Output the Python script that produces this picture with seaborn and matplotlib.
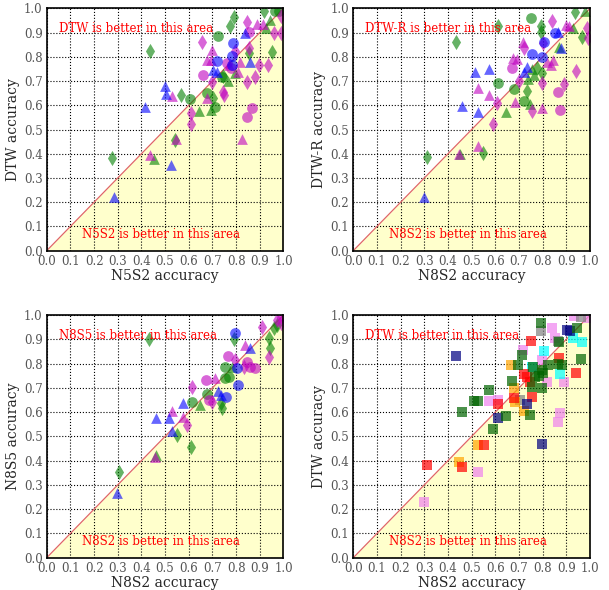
import matplotlib
matplotlib.use("Agg")
import matplotlib.pyplot as plt
import seaborn as sns
import pandas as pd

# ---------------- data ----------------
# Panel 1: N5S2 (x) vs DTW (y)
p1_b_tri = [(0.286,0.223),(0.417,0.593),(0.5,0.68),(0.502,0.645),(0.527,0.354),(0.704,0.745),(0.718,0.739),(0.839,0.897),(0.86,0.78)]
p1_b_circ = [(0.718,0.783),(0.788,0.858),(0.781,0.803),(0.784,0.766)]
p1_m_tri = [(0.437,0.395),(0.53,0.64),(0.545,0.46),(0.697,0.828),(0.679,0.787),(0.693,0.787),(0.675,0.629),(0.825,0.461),(0.818,0.78),(0.809,0.739),(0.77,0.766),(0.888,0.934),(0.913,0.934)]
p1_m_circ = [(0.662,0.725),(0.853,0.901),(0.867,0.587),(0.846,0.553),(0.777,0.752),(0.763,0.773)]
p1_m_dia = [(0.655,0.862),(0.7,0.697),(0.746,0.656),(0.749,0.642),(0.795,0.824),(0.853,0.838),(0.844,0.942),(0.958,0.897),(0.99,0.897),(0.895,0.766),(0.934,0.766),(0.878,0.718),(0.846,0.697),(0.609,0.567),(0.609,0.521),(0.99,0.97)]
p1_g_tri = [(0.453,0.377),(0.644,0.576),(0.693,0.58),(0.767,0.7),(0.795,0.732),(0.926,0.917),(0.944,0.952)]
p1_g_circ = [(0.725,0.886),(0.605,0.626),(0.712,0.593),(0.675,0.649),(0.739,0.718),(0.965,0.99),(0.98,0.99)]
p1_g_dia = [(0.275,0.384),(0.435,0.824),(0.567,0.642),(0.542,0.457),(0.793,0.966),(0.772,0.928),(0.916,0.989),(0.951,0.821),(0.856,0.814),(0.703,0.629),(0.745,0.72)]

# Panel 2: N8S2 (x) vs DTW-R (y)
p2_b_tri = [(0.299,0.223),(0.458,0.598),(0.514,0.739),(0.528,0.571),(0.575,0.75),(0.732,0.759),(0.723,0.739),(0.863,0.904),(0.876,0.838)]
p2_b_circ = [(0.756,0.81),(0.796,0.8),(0.807,0.862),(0.852,0.897)]
p2_m_tri = [(0.446,0.4),(0.528,0.432),(0.528,0.673),(0.575,0.642),(0.682,0.612),(0.676,0.794),(0.69,0.791),(0.718,0.86),(0.799,0.59),(0.835,0.766),(0.82,0.78),(0.845,0.785),(0.897,0.931),(0.911,0.928)]
p2_m_circ = [(0.669,0.755),(0.863,0.653),(0.873,0.58)]
p2_m_dia = [(0.592,0.521),(0.608,0.608),(0.721,0.835),(0.756,0.576),(0.797,0.692),(0.803,0.856),(0.841,0.948),(0.892,0.689),(0.939,0.741),(0.986,0.917),(0.993,0.876),(0.7,0.7)]
p2_g_tri = [(0.451,0.4),(0.645,0.574),(0.746,0.605),(0.74,0.708),(0.765,0.725),(0.756,0.748),(0.869,0.842),(0.93,0.92),(0.98,0.99)]
p2_g_circ = [(0.613,0.693),(0.68,0.667),(0.723,0.619),(0.751,0.959)]
p2_g_dia = [(0.31,0.388),(0.432,0.86),(0.549,0.402),(0.61,0.928),(0.732,0.659),(0.775,0.755),(0.799,0.732),(0.792,0.928),(0.792,0.904),(0.937,0.986),(0.965,0.883)]

# Panel 3: N8S2 (x) vs N8S5 (y)
p3_b_tri = [(0.296,0.265),(0.46,0.577),(0.516,0.577),(0.53,0.522),(0.577,0.636),(0.723,0.687),(0.734,0.67),(0.86,0.863)]
p3_b_circ = [(0.797,0.924),(0.804,0.78),(0.807,0.712),(0.759,0.663)]
p3_m_tri = [(0.456,0.416),(0.53,0.604),(0.575,0.581),(0.709,0.742),(0.839,0.876)]
p3_m_circ = [(0.671,0.732),(0.767,0.832),(0.86,0.787),(0.881,0.78),(0.846,0.808),(0.685,0.65)]
p3_m_dia = [(0.594,0.547),(0.612,0.705),(0.699,0.643),(0.832,0.787),(0.797,0.815),(0.937,0.826),(0.91,0.95),(0.972,0.979),(0.99,0.99),(0.99,0.965)]
p3_g_tri = [(0.46,0.423),(0.647,0.629),(0.783,0.787)]
p3_g_circ = [(0.615,0.64),(0.678,0.673),(0.751,0.787),(0.751,0.739),(0.769,0.746)]
p3_g_dia = [(0.307,0.354),(0.432,0.9),(0.551,0.505),(0.61,0.457),(0.734,0.636),(0.741,0.615),(0.79,0.9),(0.937,0.907),(0.941,0.865),(0.96,0.945),(0.972,0.96)]

# Panel 4: N8S2 (x) vs DTW (y), squares by group
p4_navy = [(0.432,0.832),(0.61,0.574),(0.732,0.632),(0.796,0.467),(0.901,0.938),(0.915,0.934)]
p4_darkgreen = [(0.458,0.602),(0.511,0.646),(0.525,0.646),(0.575,0.691),(0.592,0.53),(0.645,0.585),(0.669,0.728),(0.697,0.794),(0.711,0.835),(0.746,0.59),(0.756,0.705),(0.761,0.787),(0.768,0.746),(0.785,0.75),(0.799,0.773),(0.799,0.698),(0.792,0.966),(0.824,0.794),(0.866,0.8),(0.88,0.794),(0.869,0.89),(0.944,0.945),(0.962,0.817),(0.8,0.76)]
p4_red = [(0.31,0.382),(0.461,0.375),(0.553,0.464),(0.613,0.632),(0.68,0.657),(0.723,0.755),(0.734,0.746),(0.746,0.725),(0.756,0.663),(0.751,0.893),(0.869,0.821),(0.939,0.759)]
p4_orange = [(0.448,0.396),(0.525,0.464),(0.666,0.794),(0.68,0.701),(0.682,0.643),(0.722,0.604)]
p4_violet = [(0.299,0.228),(0.528,0.352),(0.573,0.646),(0.61,0.65),(0.718,0.856),(0.799,0.815),(0.817,0.725),(0.841,0.948),(0.852,0.907),(0.863,0.56),(0.873,0.595),(0.89,0.725),(0.934,0.997),(0.99,0.986)]
p4_cyan = [(0.754,0.787),(0.807,0.852),(0.871,0.755),(0.93,0.907),(0.968,0.89)]
p4_gray = [(0.704,0.65),(0.792,0.934),(0.866,0.893),(0.962,0.993)]

ticks = [0.0,0.1,0.2,0.3,0.4,0.5,0.6,0.7,0.8,0.9,1.0]
tick_labels = ["0.0","0.1","0.2","0.3","0.4","0.5","0.6","0.7","0.8","0.9","1.0"]

# ---------------- style ----------------
sns.set_style("white")
plt.rcParams['font.family'] = ['DejaVu Serif']

fig = plt.figure(figsize=(6.09, 5.90), dpi=100)

positions = [
    [0.0767, 0.5751, 0.3888, 0.4108],
    [0.5801, 0.5751, 0.3888, 0.4108],
    [0.0767, 0.0547, 0.3888, 0.4114],
    [0.5801, 0.0547, 0.3888, 0.4114],
]

def setup(ax, xlabel, ylabel, top_txt, bot_txt):
    ax.set_xlim(0, 1)
    ax.set_ylim(0, 1)
    ax.fill_between([0, 1], [0, 0], [0, 1], color='#ffffcc', zorder=0, linewidth=0)
    ax.plot([0, 1], [0, 1], color='#e06666', lw=0.9, zorder=0.6)
    ax.set_axisbelow(True)
    ax.grid(True, linestyle=':', color='black', linewidth=0.8)
    ax.set_xticks(ticks)
    ax.set_yticks(ticks)
    ax.set_xticklabels(tick_labels, fontsize=8.5, color='#555555')
    ax.set_yticklabels(tick_labels, fontsize=8.5, color='#555555')
    ax.tick_params(axis='x', direction='in', length=3, pad=3)
    ax.tick_params(axis='y', direction='in', length=3, pad=3)
    ax.set_xlabel(xlabel, fontsize=10, labelpad=1)
    ax.set_ylabel(ylabel, fontsize=10, labelpad=3)
    for s in ax.spines.values():
        s.set_color('black')
        s.set_linewidth(1.2)
    ax.text(0.05, 0.915, top_txt, color='red', fontsize=8.5, ha='left', va='center')
    ax.text(0.15, 0.065, bot_txt, color='red', fontsize=8.5, ha='left', va='center')

def pts(ax, data, marker, color, s=60, alpha=0.6):
    df = pd.DataFrame(data, columns=['x', 'y'])
    sns.scatterplot(data=df, x='x', y='y', marker=marker, color=color, s=s,
                    alpha=alpha, linewidth=0, ax=ax, zorder=2, clip_on=True)

def shape_panel(ax, groups):
    for data, marker, color in groups:
        pts(ax, data, marker, color)

ax1 = fig.add_axes(positions[0])
shape_panel(ax1, [
    (p1_g_circ, 'o', 'g'), (p1_g_dia, 'd', 'g'), (p1_g_tri, '^', 'g'),
    (p1_m_circ, 'o', 'm'), (p1_m_dia, 'd', 'm'), (p1_m_tri, '^', 'm'),
    (p1_b_circ, 'o', 'b'), (p1_b_tri, '^', 'b'),
])
setup(ax1, 'N5S2 accuracy', 'DTW accuracy', 'DTW is better in this area', 'N5S2 is better in this area')

ax2 = fig.add_axes(positions[1])
shape_panel(ax2, [
    (p2_g_circ, 'o', 'g'), (p2_g_dia, 'd', 'g'), (p2_g_tri, '^', 'g'),
    (p2_m_circ, 'o', 'm'), (p2_m_dia, 'd', 'm'), (p2_m_tri, '^', 'm'),
    (p2_b_circ, 'o', 'b'), (p2_b_tri, '^', 'b'),
])
setup(ax2, 'N8S2 accuracy', 'DTW-R accuracy', 'DTW-R is better in this area', 'N8S2 is better in this area')

ax3 = fig.add_axes(positions[2])
shape_panel(ax3, [
    (p3_g_circ, 'o', 'g'), (p3_g_dia, 'd', 'g'), (p3_g_tri, '^', 'g'),
    (p3_m_circ, 'o', 'm'), (p3_m_dia, 'd', 'm'), (p3_m_tri, '^', 'm'),
    (p3_b_circ, 'o', 'b'), (p3_b_tri, '^', 'b'),
])
setup(ax3, 'N8S2 accuracy', 'N8S5 accuracy', 'N8S5 is better in this area', 'N8S2 is better in this area')

ax4 = fig.add_axes(positions[3])
for data, color in [(p4_violet, 'violet'), (p4_cyan, 'cyan'), (p4_gray, 'gray'),
                    (p4_orange, 'orange'), (p4_red, 'red'), (p4_navy, 'navy'),
                    (p4_darkgreen, 'darkgreen')]:
    pts(ax4, data, 's', color, s=55, alpha=0.7)
setup(ax4, 'N8S2 accuracy', 'DTW accuracy', 'DTW is better in this area', 'N8S2 is better in this area')

fig.savefig('out.png', dpi=100)
